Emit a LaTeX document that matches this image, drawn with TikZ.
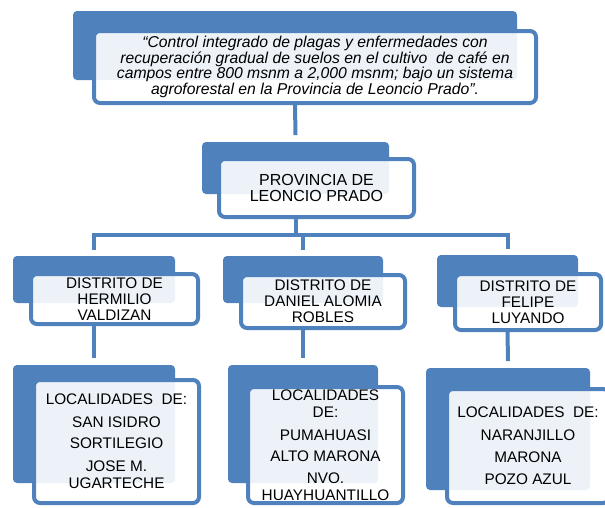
\documentclass[tikz,border=0pt]{standalone}
\usepackage{fontspec}
\setmainfont{Liberation Sans}
\usepackage{xcolor}
\usepackage{tikz}
\definecolor{accblue}{HTML}{4F81BD}

\begin{document}
\begin{tikzpicture}[x=0.75pt, y=-0.75pt,
  back/.style={fill=accblue, rounded corners=3pt, inner sep=0pt},
  front/.style={draw=accblue, line width=3pt, fill=white, fill opacity=0.9,
    text opacity=1, rounded corners=4.5pt, inner sep=1pt, align=center},
  link/.style={draw=accblue, line width=3pt}]
  \path[use as bounding box] (0,0) rectangle (605,507);
  \clip (0,0) rectangle (605,507);

  % Title of the project
  \node[back, minimum width=333pt, minimum height=51.75pt] (titleback) at (295,45.5) {};
  \node[front, minimum width=331.5pt, minimum height=54pt,
    font=\fontsize{11.8}{11.8}\selectfont\itshape] (titlefront) at (315,67)
    {“Control integrado de plagas y enfermedades con\\
     recuperación gradual de suelos en el cultivo\ \ de café en\\
     campos entre 800 msnm a 2,000 msnm; bajo un sistema\\
     agroforestal en la Provincia de Leoncio Prado”.};

  % Province
  \node[back, minimum width=140.25pt, minimum height=39pt] (provback) at (295.5,168) {};
  \node[front, minimum width=146.25pt, minimum height=43.5pt,
    font=\fontsize{12}{12.5}\selectfont] (provfront) at (316.5,188)
    {PROVINCIA DE\\ LEONCIO PRADO};

  % Districts
  \begin{scope}[font=\fontsize{11.5}{12}\selectfont]
    \node[back, minimum width=121.5pt, minimum height=35.25pt] (distback1) at (94,279.5) {};
    \node[front, minimum width=125.25pt, minimum height=37.5pt] (distfront1) at (114.5,299)
      {DISTRITO DE\\ HERMILIO\\ VALDIZAN};
    \node[back, minimum width=120pt, minimum height=35.25pt] (distback2) at (303,279.5) {};
    \node[front, minimum width=123pt, minimum height=39.75pt] (distfront2) at (323,301.5)
      {DISTRITO DE\\ DANIEL ALOMIA\\ ROBLES};
    \node[back, minimum width=105.75pt, minimum height=39pt] (distback3) at (507.5,281) {};
    \node[front, minimum width=109.5pt, minimum height=42pt] (distfront3) at (528,302)
      {DISTRITO DE\\ FELIPE\\ LUYANDO};
  \end{scope}

  % Localities
  \begin{scope}[font=\fontsize{11.5}{12.75}\selectfont]
    \node[back, minimum width=121.5pt, minimum height=88.5pt] (locback1) at (94,424) {};
    \node[front, minimum width=123.75pt, minimum height=92.25pt] (locfront1) at (116.5,441.5)
      {LOCALIDADES\ \ DE:\\[4.5pt] SAN ISIDRO\\[3pt] SORTILEGIO\\[4.5pt] JOSE M.\\ UGARTECHE};
    \node[back, minimum width=112.5pt, minimum height=88.5pt] (locback2) at (303,424) {};
    \node[front, minimum width=116.25pt, minimum height=87pt] (locfront2) at (325.5,445)
      {LOCALIDADES\\ DE:\\[5pt] PUMAHUASI\\[2.5pt] ALTO MARONA\\[4pt] NVO.\\ HUAYHUANTILLO};
    \node[back, minimum width=123pt, minimum height=91.5pt] (locback3) at (508,429) {};
    \node[front, minimum width=121.5pt, minimum height=85.5pt] (locfront3) at (528,446)
      {LOCALIDADES\ \ DE:\\[4pt] NARANJILLO\\[4pt] MARONA\\[4pt] POZO AZUL};
  \end{scope}

  % Connectors
  \coordinate (bus) at (295.5,235);
  \draw[link] (titleback.center |- titlefront.south) -- ([yshift=5pt]provback.north);
  \draw[link] (provback.center |- provfront.south) -- (bus);
  \draw[link] ([yshift=4.5pt]distback1.north) |- (distback3.north |- bus)
    -- ([yshift=4.5pt]distback3.north);
  \draw[link] (distback2.north |- bus) -- ([yshift=4.5pt]distback2.north);
  \foreach \i in {1,2,3}
    \draw[link] (distback\i.center |- distfront\i.south) -- ([yshift=5pt]locback\i.north);
\end{tikzpicture}
\end{document}
